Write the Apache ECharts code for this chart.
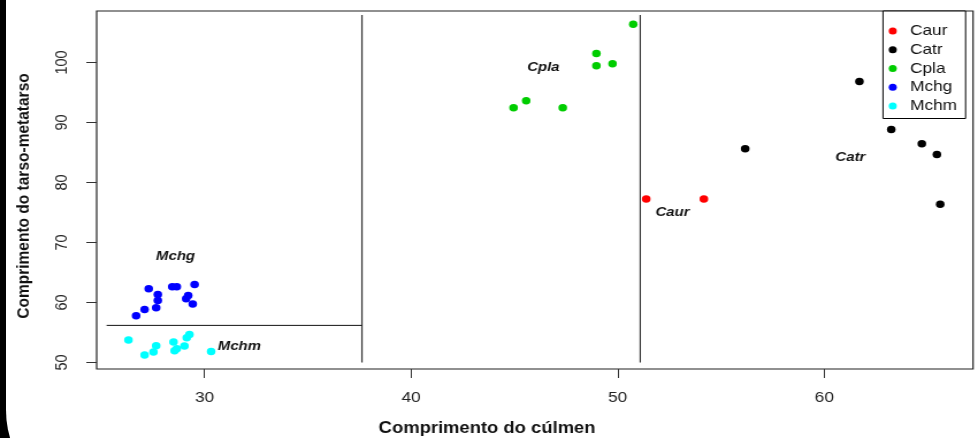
<!DOCTYPE html>
<html>
<head>
<meta charset="utf-8">
<script src="https://cdn.jsdelivr.net/npm/echarts@6/dist/echarts.min.js"></script>
<style>
  html, body { margin: 0; padding: 0; width: 978px; height: 438px; overflow: hidden; background: #000; }
  #bg { position: absolute; left: 6px; top: -200px; width: 1200px; height: 710px; background: #fff; border-bottom-left-radius: 100px; }
  #main { position: absolute; left: 0; top: 0; width: 850px; height: 438px; transform: scaleX(1.150588); transform-origin: 0 0; }
</style>
</head>
<body>
<div id="bg"></div>
<div id="main"></div>
<script>
// ---- data ----
const seriesNames = ['Caur', 'Catr', 'Cpla', 'Mchg', 'Mchm'];
const caurX = [51.38, 54.17];
const caurY = [77.22, 77.22];
const catrX = [56.17, 61.70, 63.24, 64.72, 65.45, 65.61];
const catrY = [85.62, 96.83, 88.83, 86.45, 84.67, 76.38];
const cplaX = [44.96, 45.57, 47.34, 48.97, 48.97, 49.75, 50.75];
const cplaY = [92.45, 93.62, 92.45, 99.45, 101.5, 99.78, 106.38];
const mchgX = [26.69, 27.10, 27.30, 27.66, 27.74, 27.74, 28.44, 28.66, 29.11, 29.21, 29.43, 29.52];
const mchgY = [57.78, 58.83, 62.28, 59.12, 60.33, 61.33, 62.62, 62.62, 60.62, 61.17, 59.72, 63.00];
const mchmX = [26.32, 27.10, 27.53, 27.66, 28.50, 28.55, 28.66, 29.03, 29.14, 29.27, 30.32];
const mchmY = [53.72, 51.22, 51.72, 52.78, 53.38, 51.95, 52.28, 52.72, 54.12, 54.67, 51.83];

const groupLabelNames = ['Mchg', 'Mchm', 'Cpla', 'Caur', 'Catr'];
const groupLabelX = [28.60, 31.69, 46.40, 52.65, 61.26];
const groupLabelY = [67.67, 52.72, 99.22, 74.95, 84.12];

const divider1X = [37.62, 37.62];
const divider1Y = [50, 107.9];
const divider2X = [51.09, 51.09];
const divider2Y = [50, 107.9];
const divider3X = [25.26, 37.62];
const divider3Y = [56.17, 56.17];

const xTicks = [30, 40, 50, 60];
const yTicks = [50, 60, 70, 80, 90, 100];
const xTitle = 'Comprimento do cúlmen';
const yTitle = 'Comprimento do tarso-metatarso';

// ---- chart ----
const colors = { Caur: '#ff0000', Catr: '#000000', Cpla: '#00cd00', Mchg: '#0000ff', Mchm: '#00ffff' };
const pts = { Caur: [caurX, caurY], Catr: [catrX, catrY], Cpla: [cplaX, cplaY], Mchg: [mchgX, mchgY], Mchm: [mchmX, mchmY] };
const zip = (xs, ys) => xs.map((x, i) => [x, ys[i]]);
const FONT = '"Liberation Sans", Arial, sans-serif';

const series = seriesNames.map(n => ({
  name: n,
  type: 'scatter',
  data: zip(pts[n][0], pts[n][1]),
  symbol: 'circle',
  symbolSize: 7.5,
  itemStyle: { color: colors[n], opacity: 1 },
  emphasis: { disabled: true },
  z: 5
}));

[[divider1X, divider1Y, '#333', 1.2], [divider2X, divider2Y, '#333', 1.2], [divider3X, divider3Y, '#111', 1]].forEach(([xs, ys, c, w], i) => {
  series.push({
    name: 'divider' + i,
    type: 'line',
    data: zip(xs, ys),
    symbol: 'none',
    lineStyle: { color: c, width: w, opacity: 1 },
    silent: true,
    z: 3
  });
});

series.push({
  name: 'groupLabels',
  type: 'scatter',
  symbolSize: 0,
  itemStyle: { opacity: 1 },
  data: groupLabelNames.map((n, i) => ({ name: n, value: [groupLabelX[i], groupLabelY[i]] })),
  label: {
    show: true,
    position: 'inside',
    formatter: p => p.name,
    fontFamily: FONT,
    fontSize: 13,
    fontWeight: 'bold',
    fontStyle: 'italic',
    color: '#111',
    opacity: 1
  },
  z: 6
});

const chart = echarts.init(document.getElementById('main'), null, { renderer: 'canvas' });
chart.setOption({
  backgroundColor: 'transparent',
  animation: false,
  textStyle: { fontFamily: FONT },
  grid: { left: 84, right: 4.3, top: 11, bottom: 69, show: true, borderColor: '#222', borderWidth: 1.2, backgroundColor: 'transparent' },
  xAxis: {
    type: 'value',
    min: 24.78,
    max: 67.2,
    splitLine: { show: false },
    axisLine: { show: false },
    axisTick: { show: true, length: 9, lineStyle: { color: '#333', width: 1 }, customValues: xTicks },
    axisLabel: { customValues: xTicks, margin: 21, fontSize: 15, color: '#222', fontFamily: FONT }
  },
  yAxis: {
    type: 'value',
    min: 48.9,
    max: 108.57,
    splitLine: { show: false },
    axisLine: { show: false },
    axisTick: { show: true, length: 9, lineStyle: { color: '#333', width: 1 }, customValues: yTicks },
    axisLabel: { customValues: yTicks, rotate: 90, margin: 23, fontSize: 14.5, color: '#222', fontFamily: FONT }
  },
  legend: {
    data: seriesNames,
    orient: 'vertical',
    left: 767.4,
    top: 11,
    padding: [12.5, 7.5, 5, 5],
    itemGap: 3.75,
    itemWidth: 20,
    itemHeight: 7,
    icon: 'circle',
    borderColor: '#000',
    borderWidth: 1,
    backgroundColor: '#fff',
    itemStyle: { opacity: 1 },
    textStyle: { fontSize: 15, color: '#111', fontFamily: FONT }
  },
  graphic: [
    {
      type: 'text',
      x: 21,
      y: 196,
      rotation: Math.PI / 2,
      style: { text: yTitle, font: 'bold 15.5px ' + FONT, fill: '#111', textAlign: 'center', textVerticalAlign: 'middle' }
    },
    {
      type: 'text',
      x: 423.3,
      y: 429,
      style: { text: xTitle, font: 'bold 16px ' + FONT, fill: '#111', textAlign: 'center', textVerticalAlign: 'middle' }
    }
  ],
  series: series
});
</script>
</body>
</html>
